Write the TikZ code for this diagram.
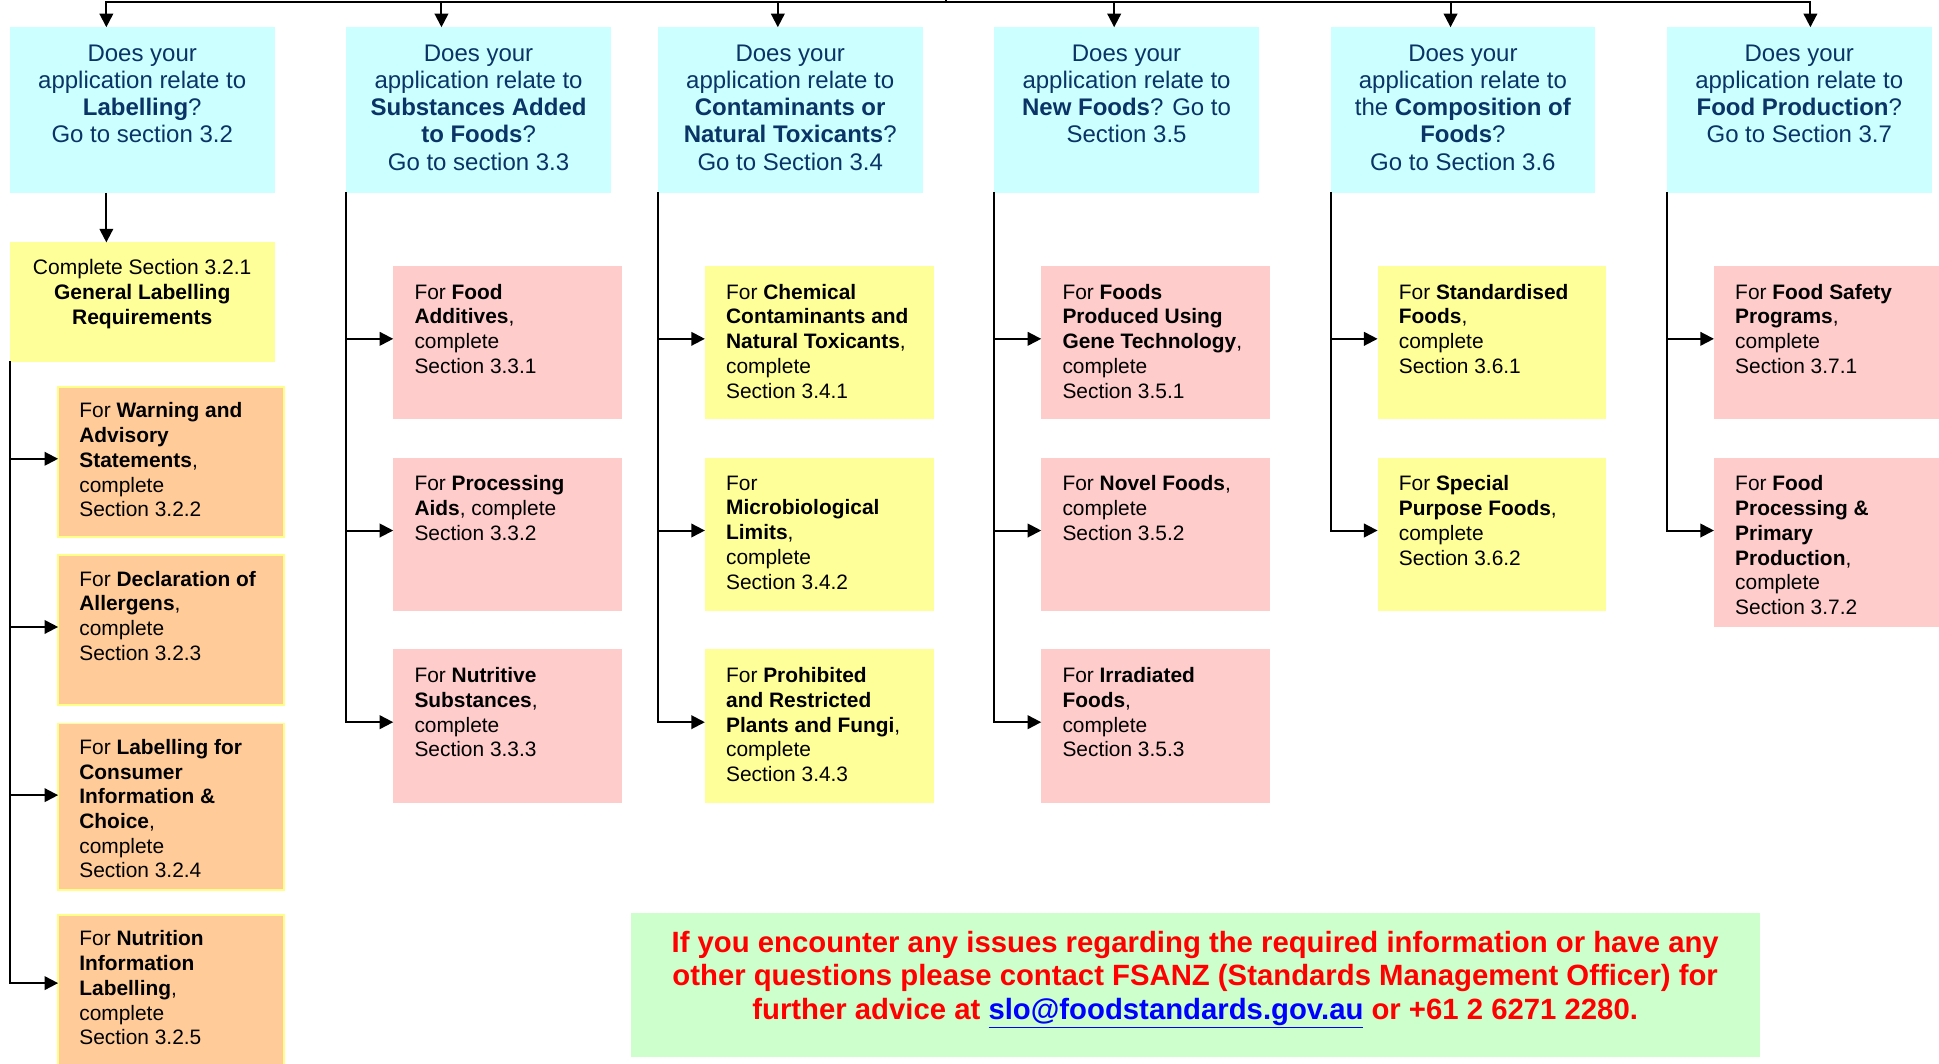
\documentclass[tikz,border=0pt]{standalone}
\usepackage{fontspec}
\setmainfont{Liberation Sans}
\usetikzlibrary{arrows.meta,calc}

\definecolor{qcyan}{HTML}{CCFFFF}
\definecolor{qyellow}{HTML}{FFFF99}
\definecolor{qpink}{HTML}{FFCCCC}
\definecolor{qorange}{HTML}{FFCC99}
\definecolor{qorangeedge}{HTML}{FFFF88}
\definecolor{qgreen}{HTML}{CCFFCC}
\definecolor{qnavy}{HTML}{0A3366}
\definecolor{qred}{HTML}{FF0000}
\definecolor{qlink}{HTML}{0000FF}

\begin{document}
\begin{tikzpicture}[x=1pt,y=-1pt,
  ln/.style={line width=1.6pt, line cap=rect},
  arr/.style={line width=1.6pt, -{Triangle[length=11pt,width=11pt]}},
  box/.style={anchor=north west, inner sep=0pt, outer sep=0pt, draw=none},
  qbox/.style={box, fill=qcyan, minimum width=214pt, minimum height=134pt},
  cellbox/.style={box, minimum width=185pt, minimum height=124pt},
  pinkbox/.style={cellbox, fill=qpink},
  yelbox/.style={cellbox, fill=qyellow},
  orgbox/.style={box, fill=qorange, draw=qorangeedge, line width=1.5pt, minimum width=183pt},
  qtext/.style={anchor=north, align=center, inner sep=0pt, text=qnavy,
                font=\fontsize{19.4}{22}\selectfont},
  ctext/.style={anchor=north west, align=left, inner sep=0pt,
                font=\fontsize{16.9}{20}\selectfont},
]
\useasboundingbox (0,0) rectangle (1568,860);

% ---------- question boxes ----------
\node[qbox] (q1) at (8,22) {};
\node[qbox] (q2) at (280,22) {};
\node[qbox] (q3) at (532,22) {};
\node[qbox] (q4) at (804,22) {};
\node[qbox] (q5) at (1076,22) {};
\node[qbox] (q6) at (1348,22) {};

\node[qtext] (q1t) at ($(q1.north)+(0,14)$) {Does your\\application relate to\\\textbf{Labelling}?\\Go to section 3.2};
\node[qtext] (q2t) at ($(q2.north)+(0,14)$) {Does your\\application relate to\\\textbf{Substances Added}\\\textbf{to Foods}?\\Go to section 3.3};
\node[qtext] (q3t) at ($(q3.north)+(0,14)$) {Does your\\application relate to\\\textbf{Contaminants or}\\\textbf{Natural Toxicants}?\\Go to Section 3.4};
\node[qtext] (q4t) at ($(q4.north)+(0,14)$) {Does your\\application relate to\\\textbf{New Foods}? Go to\\Section 3.5};
\node[qtext] (q5t) at ($(q5.north)+(0,14)$) {Does your\\application relate to\\the \textbf{Composition of}\\\textbf{Foods}?\\Go to Section 3.6};
\node[qtext] (q6t) at ($(q6.north)+(0,14)$) {Does your\\application relate to\\\textbf{Food Production}?\\Go to Section 3.7};

% ---------- labelling column ----------
\node[box, fill=qyellow, minimum width=214pt, minimum height=97pt] (g1) at (8,196) {};
\node[anchor=north, align=center, inner sep=0pt, font=\fontsize{17}{20}\selectfont] (g1t)
  at ($(g1.north)+(0,13.5)$) {Complete Section 3.2.1\\\textbf{General Labelling}\\\textbf{Requirements}};

\node[orgbox, minimum height=121pt] (o1) at (47,313) {};
\node[orgbox, minimum height=121pt] (o2) at (47,449) {};
\node[orgbox, minimum height=135pt] (o3) at (47,585) {};
\node[orgbox, minimum height=140pt] (o4) at (47,740) {};
\node[ctext] (o1t) at ($(o1.north west)+(17,12.5)$) {For \textbf{Warning and}\\\textbf{Advisory}\\\textbf{Statements},\\complete\\Section 3.2.2};
\node[ctext] (o2t) at ($(o2.north west)+(17,12.5)$) {For \textbf{Declaration of}\\\textbf{Allergens},\\complete\\Section 3.2.3};
\node[ctext] (o3t) at ($(o3.north west)+(17,12.5)$) {For \textbf{Labelling for}\\\textbf{Consumer}\\\textbf{Information \&}\\\textbf{Choice},\\complete\\Section 3.2.4};
\node[ctext] (o4t) at ($(o4.north west)+(17,12.5)$) {For \textbf{Nutrition}\\\textbf{Information}\\\textbf{Labelling},\\complete\\Section 3.2.5};

% ---------- substances added ----------
\node[pinkbox] (p21) at (318,215) {};
\node[pinkbox] (p22) at (318,370) {};
\node[pinkbox] (p23) at (318,525) {};
\node[ctext] at ($(p21.north west)+(17,14.5)$) {For \textbf{Food}\\\textbf{Additives},\\complete\\Section 3.3.1};
\node[ctext] at ($(p22.north west)+(17,14.5)$) {For \textbf{Processing}\\\textbf{Aids}, complete\\Section 3.3.2};
\node[ctext] at ($(p23.north west)+(17,14.5)$) {For \textbf{Nutritive}\\\textbf{Substances},\\complete\\Section 3.3.3};

% ---------- contaminants ----------
\node[yelbox] (p31) at (570,215) {};
\node[yelbox] (p32) at (570,370) {};
\node[yelbox] (p33) at (570,525) {};
\node[ctext] at ($(p31.north west)+(17,14.5)$) {For \textbf{Chemical}\\\textbf{Contaminants and}\\\textbf{Natural Toxicants},\\complete\\Section 3.4.1};
\node[ctext] at ($(p32.north west)+(17,14.5)$) {For\\\textbf{Microbiological}\\\textbf{Limits},\\complete\\Section 3.4.2};
\node[ctext] at ($(p33.north west)+(17,14.5)$) {For \textbf{Prohibited}\\\textbf{and Restricted}\\\textbf{Plants and Fungi},\\complete\\Section 3.4.3};

% ---------- new foods ----------
\node[pinkbox] (p41) at (842,215) {};
\node[pinkbox] (p42) at (842,370) {};
\node[pinkbox] (p43) at (842,525) {};
\node[ctext] at ($(p41.north west)+(17,14.5)$) {For \textbf{Foods}\\\textbf{Produced Using}\\\textbf{Gene Technology},\\complete\\Section 3.5.1};
\node[ctext] at ($(p42.north west)+(17,14.5)$) {For \textbf{Novel Foods},\\complete\\Section 3.5.2};
\node[ctext] at ($(p43.north west)+(17,14.5)$) {For \textbf{Irradiated}\\\textbf{Foods},\\complete\\Section 3.5.3};

% ---------- composition ----------
\node[yelbox] (p51) at (1114,215) {};
\node[yelbox] (p52) at (1114,370) {};
\node[ctext] at ($(p51.north west)+(17,14.5)$) {For \textbf{Standardised}\\\textbf{Foods},\\complete\\Section 3.6.1};
\node[ctext] at ($(p52.north west)+(17,14.5)$) {For \textbf{Special}\\\textbf{Purpose Foods},\\complete\\Section 3.6.2};

% ---------- food production ----------
\node[pinkbox] (p61) at (1386,215) {};
\node[pinkbox, minimum height=137pt] (p62) at (1386,370) {};
\node[ctext] at ($(p61.north west)+(17,14.5)$) {For \textbf{Food Safety}\\\textbf{Programs},\\complete\\Section 3.7.1};
\node[ctext] at ($(p62.north west)+(17,14.5)$) {For \textbf{Food}\\\textbf{Processing \&}\\\textbf{Primary}\\\textbf{Production},\\complete\\Section 3.7.2};

% ---------- contact note ----------
\node[box, fill=qgreen, minimum width=913pt, minimum height=117pt] (note) at (510,738) {};
\node[align=center, inner sep=0pt, text=qred, font=\bfseries\fontsize{23.7}{27}\selectfont] (notet)
  at ($(note.north west)+(456.5,54)$)
  {If you encounter any issues regarding the required information or have any\\
   other questions please contact FSANZ (Standards Management Officer) for\\
   further advice at \textcolor{qlink}{\underline{slo@foodstandards.gov.au}} or +61 2 6271 2280.};

% ---------- top distribution bus ----------
\coordinate (feed) at (765,-3);
\coordinate (d1) at (86,2);
\coordinate (d2) at (357,2);
\coordinate (d3) at (629,2);
\coordinate (d4) at (901,2);
\coordinate (d5) at (1173,2);
\coordinate (d6) at (1464,2);
\draw[ln] (d1) -- (d6);
\draw[ln] (feed) -- (feed |- d1);
\foreach \i in {1,...,6} \draw[arr] (d\i) -- (d\i |- q\i.north);

% ---------- labelling branch ----------
\draw[arr] (d1 |- q1.south) -- (d1 |- g1.north);
\coordinate (a1) at (8,371);
\coordinate (a2) at (8,507);
\coordinate (a3) at (8,643);
\coordinate (a4) at (8,795);
\draw[ln] (g1.south west) -- (a4);
\draw[arr] (a1) -- (a1 -| o1.west);
\draw[arr] (a2) -- (a2 -| o2.west);
\draw[arr] (a3) -- (a3 -| o3.west);
\draw[arr] (a4) -- (a4 -| o4.west);

% ---------- other branches ----------
\foreach \c/\n in {2/3,3/3,4/3,5/2}{
  \draw[ln] (q\c.south west) -- ($(q\c.south west |- p\c\n.west)+(0,-3)$);
  \foreach \k in {1,...,\n}
    \draw[arr] ($(q\c.south west |- p\c\k.west)+(0,-3)$) -- ($(p\c\k.west)+(0,-3)$);
}
\coordinate (a61) at (1348,274);
\coordinate (a62) at (1348,429);
\draw[ln] (q6.south west) -- (a62);
\draw[arr] (a61) -- (a61 -| p61.west);
\draw[arr] (a62) -- (a62 -| p62.west);
\end{tikzpicture}
\end{document}
